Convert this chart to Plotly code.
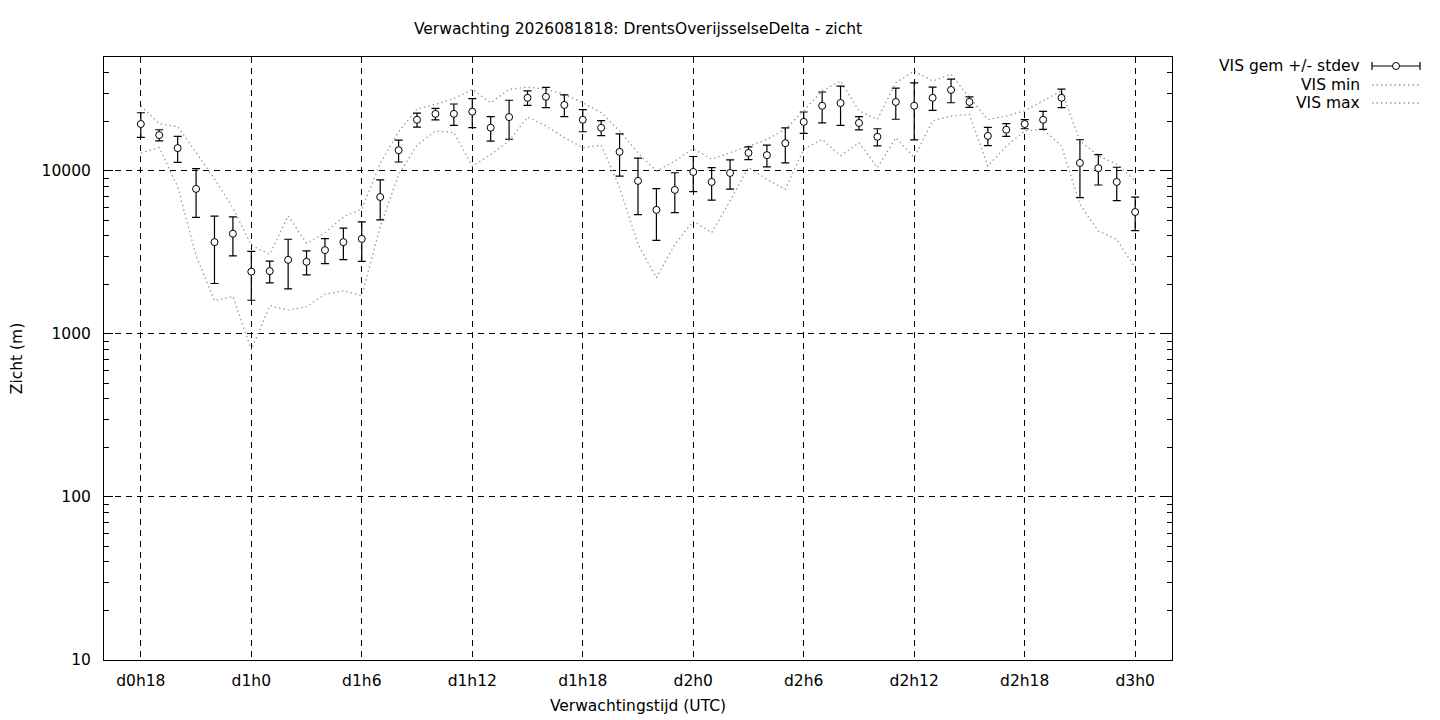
import plotly.graph_objects as go

# forecast hours since d0h0, one value per hour
hours = list(range(18, 73))

vis_mean = [19400, 16600, 13800, 7760, 3660, 4120, 2410, 2430, 2850, 2770,
            3270, 3660, 3830, 6920, 13400, 20600, 22400, 22400, 23100, 18400,
            21400, 28100, 28500, 25400, 20600, 18400, 13100, 8690, 5770, 7650,
            9860, 8560, 9720, 12900, 12500, 14800, 20000, 25100, 26100, 19700,
            16200, 26500, 25100, 28100, 31400, 26500, 16400, 17900, 19400, 20600,
            28100, 11200, 10400, 8560, 5600]
vis_stdev = [3350, 1300, 2500, 2575, 1620, 1105, 800, 370, 960, 465,
             570, 805, 1045, 1905, 2050, 2050, 1800, 3350, 4650, 3150,
             5750, 2850, 4050, 3850, 3200, 1950, 3800, 3300, 2020, 2100,
             2400, 1930, 1980, 1150, 1900, 3600, 3000, 5400, 7050, 1850,
             1950, 5750, 9600, 4600, 5200, 1950, 2100, 1600, 1250, 2600,
             3650, 4340, 2200, 1980, 1300]
vis_min = [12900, 13900, 8000, 3030, 1600, 1700, 800, 1490, 1400, 1470,
           1750, 1840, 1720, 4550, 9480, 14400, 17600, 17200, 10700, 12600,
           15300, 21400, 18900, 16000, 13900, 14400, 7910, 3550, 2210, 3550,
           4930, 4180, 6550, 10500, 8890, 7710, 13600, 15600, 12400, 14900,
           10500, 16000, 12100, 20300, 21700, 22200, 10700, 14200, 17600, 18000,
           14200, 6240, 4280, 3800, 2550]
vis_max = [25100, 19500, 18700, 12900, 8950, 5940, 3500, 3080, 5300, 3600,
           4180, 5220, 5850, 11100, 17400, 24000, 25600, 27800, 31700, 26200,
           31700, 32700, 31700, 29500, 26200, 22800, 17600, 12900, 10000, 11500,
           13700, 11800, 12900, 14200, 15600, 18000, 23400, 31000, 35600, 23400,
           20700, 34800, 41000, 35600, 39200, 28200, 20700, 21700, 23400, 26900,
           31000, 15300, 12400, 11000, 8700]

tick_hours = list(range(18, 73, 6))
tick_labels = [f"d{h // 24}h{h % 24}" for h in tick_hours]
y_tickvals = [10, 100, 1000, 10000]
y_ticktext = ["10", "100", "1000", "10000"]
y_minor = [m * 10 ** e for e in range(1, 5) for m in range(2, 10)]

title = "Verwachting 2026081818: DrentsOverijsselseDelta - zicht"
legend_labels = ["VIS gem +/- stdev", "VIS min", "VIS max"]

# the page body has an 8px margin, so the figure starts at (8, 8)
OFF = 8
W, H = 1440 - OFF, 720 - OFF
# plot area on the page: x 104..1172, y 57..660
L, R, T, B = 104 - OFF, 1440 - 1172, 57 - OFF, 720 - 660
FONT = dict(family="DejaVu Sans", size=15.5, color="black")
DOTS = dict(color="#9a9a9a", width=1.3, dash="1.5px,3px")
GRID = "6px,5px"


def px(x, y):
    # page pixel -> paper coordinates
    return (x - OFF - L) / (W - L - R), (H - B - (y - OFF)) / (H - T - B)


fig = go.Figure()
fig.add_trace(go.Scatter(x=hours, y=vis_min, mode="lines", name=legend_labels[1],
                         line=DOTS, showlegend=False))
fig.add_trace(go.Scatter(x=hours, y=vis_max, mode="lines", name=legend_labels[2],
                         line=DOTS, showlegend=False))
fig.add_trace(go.Scatter(
    x=hours, y=vis_mean, mode="markers", name=legend_labels[0], showlegend=False,
    marker=dict(symbol="circle", size=7, color="white", line=dict(color="black", width=1)),
    error_y=dict(type="data", array=vis_stdev, color="black", thickness=1.2, width=4),
))

# gnuplot style key: text right aligned, sample to the right of it
key_rows = [66, 85, 103]
shapes = []
annotations = []
for label, yp in zip(legend_labels, key_rows):
    ax, ay = px(1362, yp)
    annotations.append(dict(text=label, x=ax, y=ay, xref="paper", yref="paper",
                            xanchor="right", yanchor="middle", showarrow=False, font=FONT))
x0, y0 = px(1372, key_rows[0])
x1, _ = px(1420, key_rows[0])
shapes.append(dict(type="line", xref="paper", yref="paper", x0=x0, x1=x1, y0=y0, y1=y0,
                   line=dict(color="black", width=1.2)))
for xe in (1372, 1420):
    cx, ca = px(xe, key_rows[0] - 4)
    _, cb = px(xe, key_rows[0] + 4)
    shapes.append(dict(type="line", xref="paper", yref="paper", x0=cx, x1=cx, y0=ca, y1=cb,
                       line=dict(color="black", width=1.2)))
c0x, c0y = px(1392.5, key_rows[0] - 3.5)
c1x, c1y = px(1399.5, key_rows[0] + 3.5)
shapes.append(dict(type="circle", xref="paper", yref="paper", x0=c0x, x1=c1x, y0=c1y, y1=c0y,
                   fillcolor="white", line=dict(color="black", width=1)))
for yp in key_rows[1:]:
    sx0, sy = px(1372, yp)
    sx1, _ = px(1420, yp)
    shapes.append(dict(type="line", xref="paper", yref="paper", x0=sx0, x1=sx1, y0=sy, y1=sy,
                       line=DOTS))

fig.update_layout(
    width=W, height=H,
    margin=dict(l=L, r=R, t=T, b=B, autoexpand=False),
    paper_bgcolor="white", plot_bgcolor="white",
    font=FONT,
    title=dict(text=title, x=0.5, xref="paper", xanchor="center",
               y=1 - (29 - OFF) / H, yref="container", yanchor="middle", font=FONT),
    shapes=shapes, annotations=annotations,
    showlegend=False,
)
fig.update_xaxes(
    range=[16, 74], tickmode="array", tickvals=tick_hours, ticktext=tick_labels,
    showgrid=True, gridcolor="black", gridwidth=1, griddash=GRID,
    showline=True, linecolor="black", linewidth=1, mirror=True,
    ticks="", ticklabelstandoff=6, zeroline=False,
    title=dict(text="Verwachtingstijd (UTC)", standoff=11, font=FONT),
)
fig.update_yaxes(
    type="log", range=[1, 4.699], tickmode="array", tickvals=y_tickvals, ticktext=y_ticktext,
    showgrid=True, gridcolor="black", gridwidth=1, griddash=GRID,
    showline=True, linecolor="black", linewidth=1, mirror="allticks",
    ticks="inside", ticklen=9, tickcolor="black", ticklabelstandoff=9,
    minor=dict(tickmode="array", tickvals=y_minor, ticks="inside", ticklen=5,
               tickcolor="black", showgrid=False),
    zeroline=False,
    title=dict(text="Zicht (m)", standoff=16, font=FONT),
)

fig.write_html("out.html")
